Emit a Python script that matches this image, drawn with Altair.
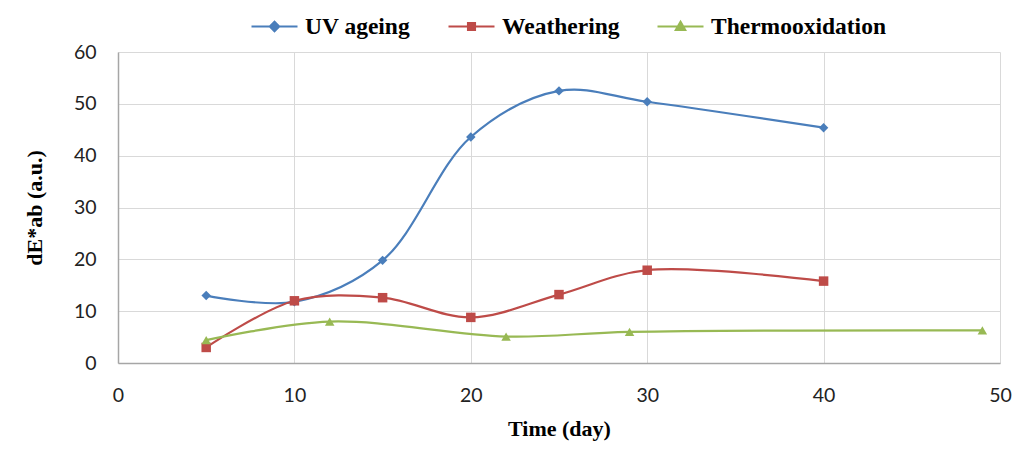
import altair as alt
import pandas as pd

series_names = ["UV ageing", "Weathering", "Thermooxidation"]
colors = ["#4A7EBB", "#BE4B48", "#98B954"]

uv_x = [5, 10, 15, 20, 25, 30, 40]
uv_y = [13.0, 11.8, 19.8, 43.6, 52.5, 50.4, 45.4]
we_x = [5, 10, 15, 20, 25, 30, 40]
we_y = [3.0, 12.0, 12.6, 8.8, 13.2, 17.9, 15.8]
th_x = [5, 12, 22, 29, 49]
th_y = [4.4, 8.0, 5.1, 6.0, 6.3]

rows = []
for name, xs, ys in zip(series_names, [uv_x, we_x, th_x], [uv_y, we_y, th_y]):
    for xv, yv in zip(xs, ys):
        rows.append({"series": name, "time": xv, "dE": yv})
df = pd.DataFrame(rows)

point_shapes = ["diamond", "square", "triangle-up"]
legend_shapes = [
    "M-1,0H1M0,-0.2L0.2,0L0,0.2L-0.2,0Z",
    "M-1,0H1M-0.15,-0.15H0.15V0.15H-0.15Z",
    "M-1,0H1M0,-0.2L0.2,0.15H-0.2Z",
]

xenc = alt.X("time:Q", scale=alt.Scale(domain=[0, 50]),
             axis=alt.Axis(values=[0, 10, 20, 30, 40, 50], title="Time (day)"))
yenc = alt.Y("dE:Q", scale=alt.Scale(domain=[0, 60]),
             axis=alt.Axis(values=[0, 10, 20, 30, 40, 50, 60], title="dE*ab (a.u.)"))
cscale = alt.Scale(domain=series_names, range=colors)

leg = alt.Legend(
    title=None, orient="none", direction="horizontal",
    legendX=132, legendY=-50,
    symbolSize=2116, symbolStrokeWidth=2.2, symbolOpacity=1,
    labelFont="Liberation Serif", labelFontWeight="bold", labelFontSize=23.5,
    labelColor="#000000", columnPadding=33, labelOffset=6, labelLimit=400)

base = alt.Chart(df)

lines = base.mark_line(interpolate="catmull-rom", strokeWidth=2.2).encode(
    x=xenc, y=yenc,
    color=alt.Color("series:N", scale=cscale, legend=leg),
    detail="series:N",
)

point_layers = []
for name, shp in zip(series_names, point_shapes):
    point_layers.append(
        base.transform_filter(alt.datum.series == name)
        .mark_point(filled=True, size=90, opacity=1, shape=shp)
        .encode(x=xenc, y=yenc,
                color=alt.Color("series:N", scale=cscale, legend=leg))
    )

legend_layer = base.mark_point(filled=False, opacity=0, strokeWidth=2.2).encode(
    x=xenc, y=yenc,
    color=alt.Color("series:N", scale=cscale, legend=leg),
    shape=alt.Shape("series:N", scale=alt.Scale(domain=series_names, range=legend_shapes),
                    legend=leg),
)

chart = alt.layer(lines, *point_layers, legend_layer).properties(
    width=882, height=311,
    autosize=alt.AutoSizeParams(type="none"),
    padding={"left": 110, "top": 44, "right": 16, "bottom": 90},
).configure_view(stroke=None).configure_axis(
    grid=True, gridColor="#D9D9D9", gridWidth=1,
    domainColor="#A6A6A6", domainWidth=1.5,
    ticks=False, labelFlush=False,
    labelFont="Lato", labelFontSize=19.5, labelColor="#222222",
    titleFont="Liberation Serif", titleFontWeight="bold", titleFontSize=22,
    titleColor="#000000",
).configure_axisX(labelPadding=23, titlePadding=14).configure_axisY(
    labelPadding=22, titlePadding=27)

chart.save("out.html", embed_options={"renderer": "svg", "actions": False})
